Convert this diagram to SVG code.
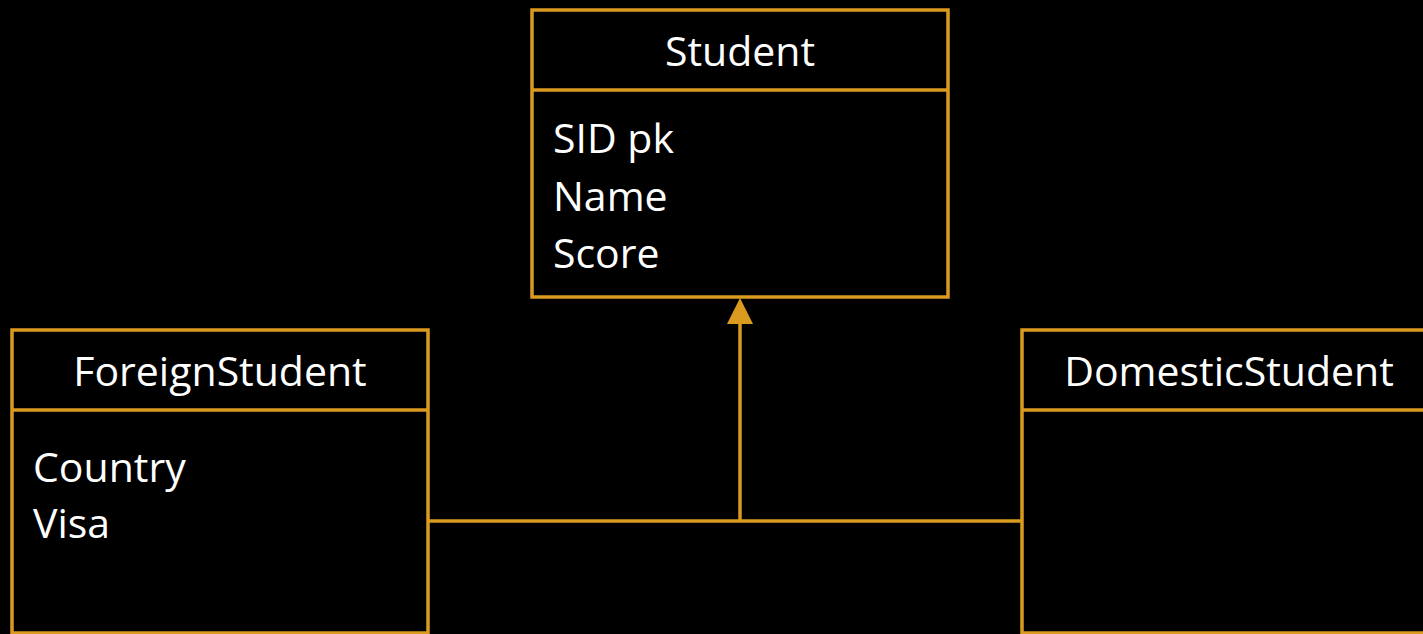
<svg xmlns="http://www.w3.org/2000/svg" width="1423" height="634" viewBox="0 0 1423 634">
  <style>
    .box { fill: #000000; stroke: #DA9A1F; stroke-width: 3.5; }
    .div { stroke: #DA9A1F; stroke-width: 3.5; }
    .conn { stroke: #DA9A1F; stroke-width: 3.5; fill: none; }
    .title { font-family: "Open Sans", "Liberation Sans", sans-serif; font-size: 41px; fill: #FFFFFF; text-anchor: middle; }
    .attr { font-family: "Open Sans", "Liberation Sans", sans-serif; font-size: 41px; fill: #FFFFFF; }
  </style>
  <rect x="0" y="0" width="1423" height="634" fill="#000000"/>
  <g id="connectors">
    <line class="conn" x1="428" y1="521" x2="1022" y2="521"/>
    <line class="conn" x1="740" y1="521" x2="740" y2="322"/>
    <polygon points="740,298 727,324 753,324" fill="#DA9A1F"/>
  </g>
  <g id="student">
    <rect class="box" x="532" y="10" width="416" height="287"/>
    <line class="div" x1="532" y1="90" x2="948" y2="90"/>
    <text class="title" x="740" y="66">Student</text>
    <text class="attr" x="553" y="153">SID pk</text>
    <text class="attr" x="553" y="211">Name</text>
    <text class="attr" x="553" y="268">Score</text>
  </g>
  <g id="foreign-student">
    <rect class="box" x="12" y="330" width="416" height="303"/>
    <line class="div" x1="12" y1="410" x2="428" y2="410"/>
    <text class="title" x="220" y="386">ForeignStudent</text>
    <text class="attr" x="33" y="482">Country</text>
    <text class="attr" x="33" y="538">Visa</text>
  </g>
  <g id="domestic-student">
    <rect class="box" x="1022" y="330" width="416" height="303"/>
    <line class="div" x1="1022" y1="410" x2="1438" y2="410"/>
    <text class="title" x="1229" y="386">DomesticStudent</text>
  </g>
</svg>
